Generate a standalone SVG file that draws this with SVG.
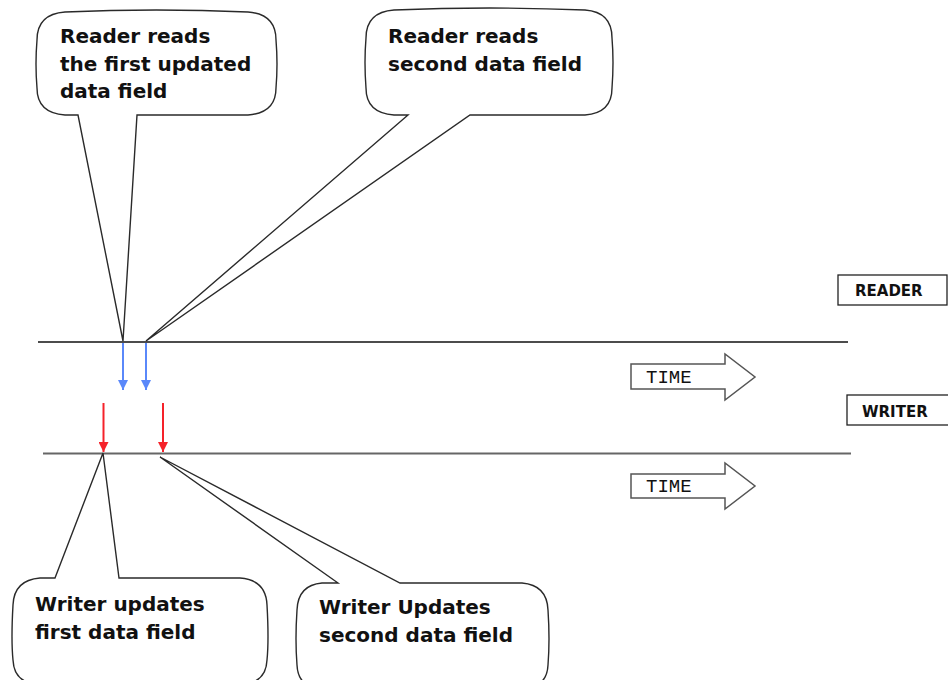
<svg xmlns="http://www.w3.org/2000/svg" width="948" height="680" viewBox="0 0 948 680">
<style>
.bub{fill:#fff;stroke:#2a2a2a;stroke-width:1.4;stroke-linejoin:miter}
.bt{font-family:"DejaVu Sans",sans-serif;font-weight:bold;font-size:20px;fill:#111}
.lbl{font-family:"DejaVu Sans",sans-serif;font-weight:bold;font-size:15px;fill:#111}
.box{fill:#fff;stroke:#222;stroke-width:1.3}
.tarr{fill:#fff;stroke:#555;stroke-width:1.5;stroke-linejoin:miter}
.tt{font-family:"Liberation Mono","Courier New",monospace;font-size:19px;fill:#111}
.blue{stroke:#5a88fa;stroke-width:2}
.red{stroke:#f5222a;stroke-width:2}
</style>
<defs>
<marker id="ab" viewBox="0 0 10 10" refX="10" refY="5" markerWidth="5" markerHeight="5" orient="auto" markerUnits="strokeWidth"><path d="M0,0 L10,5 L0,10 Z" fill="#5a88fa"/></marker>
<marker id="ar" viewBox="0 0 10 10" refX="10" refY="5" markerWidth="5" markerHeight="5" orient="auto" markerUnits="strokeWidth"><path d="M0,0 L10,5 L0,10 Z" fill="#f5222a"/></marker>
</defs>
<rect width="948" height="680" fill="#fff"/>

<g id="connectors">
<line x1="38" y1="342" x2="848" y2="342" stroke="#111" stroke-width="1.5"/>
<line x1="43" y1="453.5" x2="851" y2="453.5" stroke="#666" stroke-width="2"/>
<line class="blue" x1="123" y1="343" x2="123" y2="390" marker-end="url(#ab)"/>
<line class="blue" x1="146" y1="343" x2="146" y2="390" marker-end="url(#ab)"/>
<line class="red" x1="103.5" y1="403" x2="103.5" y2="452" marker-end="url(#ar)"/>
<line class="red" x1="163" y1="403" x2="163" y2="452" marker-end="url(#ar)"/>
</g>

<g id="reader-first">
<path class="bub" d="M65,12 Q156,8 248,12 Q276,14 276,40 Q278,64 276,88 Q276,113 248,115 L137,115 L123,341 L78,115 L65,115 Q37,113 37,88 Q35,64 37,40 Q37,14 65,12 Z"/>
<text class="bt" x="60" y="43">Reader reads</text>
<text class="bt" x="60" y="71">the first updated</text>
<text class="bt" x="60" y="98">data field</text>
</g>

<g id="reader-second">
<path class="bub" d="M394,10 Q489,6 585,10 Q612,12 612,38 Q614,62 612,88 Q612,113 585,115 L470,115 L146,341 L408,115 L394,115 Q366,113 366,88 Q364,62 366,38 Q366,12 394,10 Z"/>
<text class="bt" x="388" y="43">Reader reads</text>
<text class="bt" x="388" y="71">second data field</text>
</g>

<g id="writer-first">
<path class="bub" d="M55,578 L103,453 L119,578 L240,578 Q266,580 267,605 Q269,640 267,660 Q266,684 240,684 L40,684 Q14,684 13,660 Q11,640 13,605 Q14,580 40,578 Z"/>
<text class="bt" x="35" y="611">Writer updates</text>
<text class="bt" x="35" y="639">first data field</text>
</g>

<g id="writer-second">
<path class="bub" d="M338,583 L160,457 L400,583 L522,583 Q547,585 548,610 Q550,640 548,665 Q547,688 522,688 L322,688 Q298,688 297,665 Q295,640 297,610 Q298,585 322,583 Z"/>
<text class="bt" x="319" y="614">Writer Updates</text>
<text class="bt" x="319" y="642">second data field</text>
</g>

<g id="reader-label">
<rect class="box" x="838" y="275" width="109" height="30"/>
<text class="lbl" x="855" y="296">READER</text>
</g>

<g id="writer-label">
<rect class="box" x="847" y="395" width="105" height="30"/>
<text class="lbl" x="862" y="417">WRITER</text>
</g>

<g id="time-reader">
<polygon class="tarr" points="631,364 725,364 725,354 755,377 725,400 725,389 631,389"/>
<text class="tt" x="646" y="383">TIME</text>
</g>

<g id="time-writer">
<polygon class="tarr" points="631,474 725,474 725,463 755,486 725,509 725,498 631,498"/>
<text class="tt" x="646" y="492">TIME</text>
</g>
</svg>
